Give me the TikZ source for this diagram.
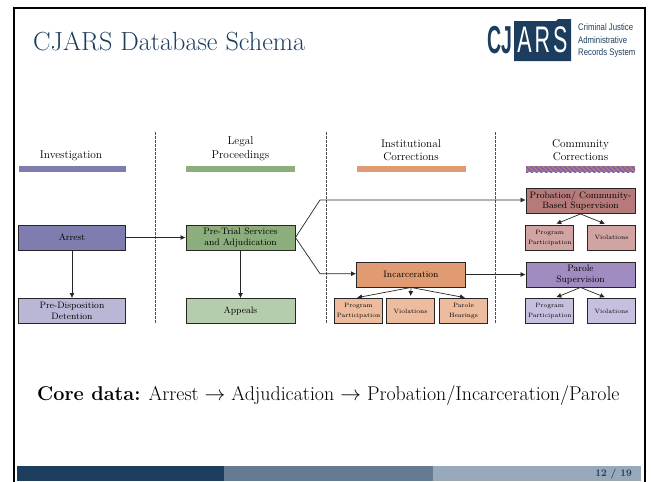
\documentclass[tikz,border=0pt]{standalone}
\usepackage{fontspec}
\usetikzlibrary{positioning,arrows.meta,patterns,patterns.meta,calc}
\newfontfamily\logobig[FakeStretch=0.5]{Liberation Sans}
\newfontfamily\logoars[FakeStretch=0.58]{Liberation Sans}
\newfontfamily\logosmall[FakeStretch=0.82]{Liberation Sans}
\definecolor{navy}{HTML}{1C3D5E}
\definecolor{navymid}{HTML}{657B94}
\definecolor{navylight}{HTML}{97A9BB}
\definecolor{invdark}{HTML}{7F7CAF}
\definecolor{invlight}{HTML}{B8B7D6}
\definecolor{legdark}{HTML}{8CAD7C}
\definecolor{leglight}{HTML}{B5CDAC}
\definecolor{cordark}{HTML}{E09B73}
\definecolor{corlight}{HTML}{EDBB9D}
\definecolor{probdark}{HTML}{B77A7A}
\definecolor{problight}{HTML}{D1A3A3}
\definecolor{pardark}{HTML}{A08CC0}
\definecolor{parlight}{HTML}{C8BFE0}
\definecolor{hatchline}{HTML}{7A65A8}
\tikzset{
  stagebox/.style={draw=black!85, line width=0.9pt, align=center, inner sep=0pt, minimum width=109pt, minimum height=25pt, font=\fontsize{9.3}{10.5}\selectfont},
  subbox/.style={stagebox, minimum width=48pt, font=\fontsize{6.2}{10}\selectfont},
  header/.style={align=center, anchor=south, inner sep=0pt, font=\fontsize{11.3}{13.5}\selectfont},
  link/.style={-{Latex[length=5pt,width=5pt]}, line width=0.7pt, black!85},
  fork/.style={link, shorten >=2pt},
  divider/.style={dash pattern=on 2.5pt off 1.5pt, line width=0.6pt, black!70},
  bar/.style={minimum width=109pt, minimum height=6pt, inner sep=0pt}
}
\begin{document}
\begin{tikzpicture}[x=1pt,y=-1pt]
\useasboundingbox (0,0) rectangle (651,482);
% slide frame
\draw[line width=2pt] (14,482) -- (14,8) -- (645,8) -- (645,482);
\node[anchor=base west, inner sep=0pt, text=navy, font=\fontsize{26.2}{28}\selectfont] (title) at (33,50) {CJARS Database Schema};
% logo
\node[anchor=center, inner sep=0pt, text=navy, font=\logobig\bfseries\fontsize{39}{39}\selectfont] (logocj) at (499.5,40) {CJ};
\fill[navy] (514,21) -- (556,21) -- (558,19) -- (571,19) -- (571,61) -- (514,61) -- cycle;
\node[anchor=center, inner sep=0pt, text=white, font=\logoars\fontsize{37}{37}\selectfont] (logoars) at (542.5,40) {A\hspace{3pt}R\hspace{3pt}S};
\node[anchor=west, inner sep=0pt, align=left, text=navy, font=\logosmall\fontsize{9.5}{12.5}\selectfont] (logotext) at (578,41) {Criminal Justice\\Administrative\\Records System};
% columns
\foreach \x in {155.5,326,495.5}\draw[divider] (\x,132) -- (\x,323);
\node[header] (hinv) at (71,161) {Investigation};
\node[header] (hleg) at (240.5,161) {Legal\\Proceedings};
\node[header] (hcor) at (411,161) {Institutional\\Corrections};
\node[header] (hcom) at (580.5,161) {Community\\Corrections};
\node[bar, fill=invdark, minimum width=107pt] (barinv) at (72,169) {};
\node[bar, fill=legdark] (barleg) at (240.5,169) {};
\node[bar, fill=cordark] (barcor) at (411,169) {};
\node[bar, preaction={fill=probdark}, pattern={Lines[angle=135,distance=3.4pt,line width=1.7pt]}, pattern color=hatchline] (barcom) at (580.5,169) {};
% boxes
\node[stagebox, fill=invdark, minimum width=107pt] (arrest) at (72,237.5) {Arrest};
\node[stagebox, fill=invlight, minimum width=107pt] (detention) at (72,311) {Pre-Disposition\\Detention};
\node[stagebox, fill=legdark] (pretrial) at (240.5,237.5) {Pre-Trial Services\\and Adjudication};
\node[stagebox, fill=leglight] (appeals) at (240.5,311) {Appeals};
\node[stagebox, fill=cordark] (incar) at (411,274.5) {Incarceration};
\node[subbox, fill=corlight] (incprog) at (358.5,311) {Program\\Participation};
\node[subbox, fill=corlight] (incviol) at (410.5,311) {Violations};
\node[subbox, fill=corlight] (inchear) at (463.5,311) {Parole\\Hearings};
\node[stagebox, fill=probdark] (probation) at (580.5,201) {Probation/ Community-\\Based Supervision};
\node[subbox, fill=problight] (probprog) at (549.75,237.5) {Program\\Participation};
\node[subbox, fill=problight] (probviol) at (611.5,237.5) {Violations};
\node[stagebox, fill=pardark] (parole) at (580.5,274.5) {Parole\\Supervision};
\node[subbox, fill=parlight] (parprog) at (549.75,311) {Program\\Participation};
\node[subbox, fill=parlight] (parviol) at (611.5,311) {Violations};
% connectors
\draw[link] (arrest) -- (pretrial);
\draw[link] (arrest) -- (detention);
\draw[link] (pretrial) -- (appeals);
\draw[link] (pretrial.east) -- (320,200) -- (probation.west |- 320,200);
\draw[link] (pretrial.east) -- (320,273.7) -- (incar.west |- 320,273.7);
\draw[link] (incar) -- (parole);
\draw[fork] (probation.south) -- (probprog.70);
\draw[fork] (probation.south) -- (probviol.110);
\draw[fork] (parole.south) -- (parprog.70);
\draw[fork] (parole.south) -- (parviol.110);
\draw[fork] (incar.south) -- (incprog.105);
\draw[fork] (incar.south) -- (incviol.north);
\draw[fork] (incar.south) -- (inchear.75);
% core data line
\node[anchor=base west, inner sep=0pt, font=\fontsize{19.9}{22}\selectfont] (core) at (37,400) {\textbf{Core data:} Arrest $\rightarrow$ Adjudication $\rightarrow$ Probation/Incarceration/Parole};
% footer
\fill[navy] (17,466) rectangle (224,481);
\fill[navymid] (224,466) rectangle (433,481);
\fill[navylight] (433,466) rectangle (641,481);
\node[anchor=base east, inner sep=0pt, text=navy, font=\fontsize{10}{12}\bfseries\selectfont] (pagenum) at (632,476.5) {12 / 19};
\end{tikzpicture}
\end{document}
